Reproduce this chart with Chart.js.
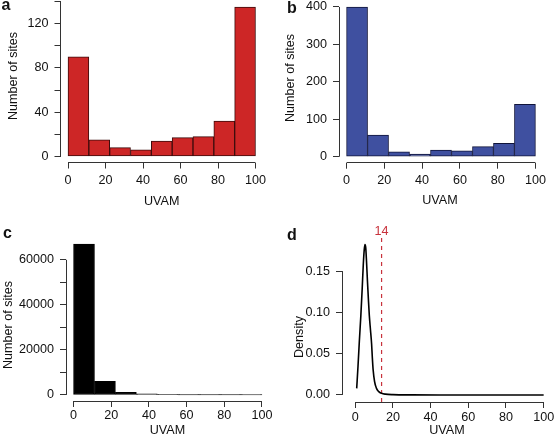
<!DOCTYPE html>
<html>
<head>
<meta charset="utf-8">
<script src="https://cdn.jsdelivr.net/npm/chart.js@4.4.1/dist/chart.umd.min.js"></script>
<style>
  html, body { margin: 0; padding: 0; background: #fff; }
  #wrap { position: relative; width: 554px; height: 445px; overflow: hidden; }
  canvas { position: absolute; }
</style>
</head>
<body>
<div id="wrap">
  <canvas id="chartA" width="277" height="222" style="left:0;top:0"></canvas>
  <canvas id="chartB" width="277" height="222" style="left:277px;top:0"></canvas>
  <canvas id="chartC" width="277" height="223" style="left:0;top:222px"></canvas>
  <canvas id="chartD" width="277" height="223" style="left:277px;top:222px"></canvas>
</div>
<script>
// centres of the nine UVAM bins (0-100, width 100/9)
const binCentres = [5.56, 16.67, 27.78, 38.89, 50, 61.11, 72.22, 83.33, 94.44];

// histogram counts
const countsA = [90, 15, 8, 6, 14, 17, 18, 32, 135];
const countsB = [400, 58, 13, 7, 18, 16, 27, 36, 140];
const countsC = [67000, 6000, 1200, 450, 130, 50, 20, 10, 5];

// density curve of panel d
const densityX = [0.8, 1.5, 2.2, 3.0, 3.7, 4.3, 4.8, 5.2, 5.6, 6.0, 6.5, 7.0, 7.5, 8.1, 8.7, 9.1, 9.5, 10.3, 11.3, 12.5, 14, 16, 20, 30, 50, 75, 100];
const densityY = [0.008, 0.035, 0.065, 0.096, 0.128, 0.158, 0.176, 0.182, 0.178, 0.162, 0.138, 0.116, 0.096, 0.079, 0.062, 0.045, 0.031, 0.016, 0.008, 0.004, 0.002, 0.001, 0.0004, 0.0001, 0, 0, 0];
const cutoff = 14;

// axis ticks and their labels (R drops every other label when crowded)
const xTicks = [0, 20, 40, 60, 80, 100];
const xTickLabels = ['0', '20', '40', '60', '80', '100'];
const yTicksA = [0, 20, 40, 60, 80, 100, 120, 140];
const yTickLabelsA = ['0', '', '40', '', '80', '', '120', ''];
const yTicksB = [0, 100, 200, 300, 400];
const yTickLabelsB = ['0', '100', '200', '300', '400'];
const yTicksC = [0, 10000, 20000, 30000, 40000, 50000, 60000];
const yTickLabelsC = ['0', '', '20000', '', '40000', '', '60000'];
const yTicksD = [0, 0.05, 0.10, 0.15];
const yTickLabelsD = ['0.00', '0.05', '0.10', '0.15'];

const axisColour = '#333';
const font = '"Liberation Sans", Arial, Helvetica, sans-serif';

Chart.defaults.font.family = font;
Chart.defaults.font.size = 12.6;
Chart.defaults.color = '#111';
Chart.defaults.animation = false;
Chart.defaults.plugins.legend.display = false;
Chart.defaults.plugins.tooltip.enabled = false;

function align(v) { return Math.round(v - 0.5) + 0.5; }

// R style: axis line only from first to last tick, plus panel letter and titles
const rStyle = {
    id: 'rStyle',
    afterDraw(chart, args, o) {
        const ctx = chart.ctx, area = chart.chartArea;
        const sx = chart.scales.x, sy = chart.scales.y;
        ctx.save();
        ctx.strokeStyle = axisColour;
        ctx.lineWidth = 1;
        ctx.beginPath();
        const yb = align(area.bottom);
        ctx.moveTo(sx.getPixelForValue(sx.ticks[0].value), yb);
        ctx.lineTo(sx.getPixelForValue(sx.ticks[sx.ticks.length - 1].value), yb);
        const xl = align(area.left);
        ctx.moveTo(xl, sy.getPixelForValue(sy.ticks[0].value));
        ctx.lineTo(xl, sy.getPixelForValue(sy.ticks[sy.ticks.length - 1].value));
        ctx.stroke();

        ctx.fillStyle = '#111';
        ctx.font = 'bold 16px ' + font;
        ctx.textAlign = 'left';
        ctx.textBaseline = 'alphabetic';
        ctx.fillText(o.letter, o.letterPos[0], o.letterPos[1]);

        ctx.font = '12.6px ' + font;
        ctx.textAlign = 'center';
        ctx.textBaseline = 'middle';
        ctx.fillText(o.xTitle, o.xTitlePos[0], o.xTitlePos[1]);
        ctx.translate(o.yTitlePos[0], o.yTitlePos[1]);
        ctx.rotate(-Math.PI / 2);
        ctx.fillText(o.yTitle, 0, 0);
        ctx.restore();

        if (o.cutLabel) {
            ctx.save();
            ctx.font = '12.6px ' + font;
            ctx.fillStyle = '#C8323C';
            ctx.textAlign = 'center';
            ctx.textBaseline = 'middle';
            ctx.fillText(o.cutLabel, sx.getPixelForValue(cutoff), o.cutLabelY);
            ctx.restore();
        }
    }
};

function scaleOpts(min, max, ticks, labels, size, pad, isX) {
    return {
        type: 'linear',
        min: min,
        max: max,
        offset: false,
        grid: { display: true, drawOnChartArea: false, drawTicks: true, tickLength: 6, color: axisColour, lineWidth: 1, offset: false },
        border: { display: false },
        ticks: {
            autoSkip: false, maxRotation: 0, minRotation: 0,
            padding: pad,
            color: '#111',
            callback: (v, i) => labels[i]
        },
        afterBuildTicks: s => { s.ticks = ticks.map(v => ({ value: v })); },
        afterFit: s => {
            if (isX) s.height = size; else s.width = size;
            s.paddingLeft = 0; s.paddingRight = 0; s.paddingTop = 0; s.paddingBottom = 0;
        }
    };
}

function makeHist(id, counts, fill, edge, yTicks, yLabels, g, text) {
    const top = Math.max(...counts);
    new Chart(document.getElementById(id), {
        type: 'bar',
        data: {
            datasets: [{
                data: binCentres.map((x, i) => ({ x: x, y: counts[i] })),
                backgroundColor: fill,
                borderColor: edge,
                borderWidth: 1,
                borderSkipped: false,
                barPercentage: 1,
                categoryPercentage: 1
            }]
        },
        options: {
            responsive: false,
            devicePixelRatio: 1,
            layout: { padding: { left: 0, right: g.padR, top: g.padT, bottom: 0 } },
            scales: {
                x: scaleOpts(-4, 104, xTicks, xTickLabels, g.xH, g.xPad, true),
                y: scaleOpts(-0.04 * top, 1.04 * top, yTicks, yLabels, g.yW, 6, false)
            },
            plugins: { rStyle: text }
        },
        plugins: [rStyle]
    });
}

makeHist('chartA', countsA, '#CD2626', '#3d0c0c', yTicksA, yTickLabelsA,
    { padR: 14, padT: 1, xH: 59.5, yW: 60.5, xPad: 4 },
    { letter: 'a', letterPos: [1.5, 9.5], xTitle: 'UVAM', xTitlePos: [161.7, 201.7], yTitle: 'Number of sites', yTitlePos: [14, 76] });

makeHist('chartB', countsB, '#3F50A0', '#10143a', yTicksB, yTickLabelsB,
    { padR: 11, padT: 1, xH: 59.3, yW: 62, xPad: 4 },
    { letter: 'b', letterPos: [10, 12.7], xTitle: 'UVAM', xTitlePos: [163, 201], yTitle: 'Number of sites', yTitlePos: [14, 78] });

makeHist('chartC', countsC, '#000000', '#000000', yTicksC, yTickLabelsC,
    { padR: 7.5, padT: 16, xH: 44, yW: 66, xPad: 1 },
    { letter: 'c', letterPos: [3, 15.7], xTitle: 'UVAM', xTitlePos: [167.5, 208.5], yTitle: 'Number of sites', yTitlePos: [8.5, 103] });

// panel d: density of UVAM with the cut-off marked
const dMin = -0.0085, dMax = 0.19;
new Chart(document.getElementById('chartD'), {
    type: 'line',
    data: {
        datasets: [{
            data: densityX.map((x, i) => ({ x: x, y: densityY[i] })),
            borderColor: '#000',
            borderWidth: 1.6,
            pointRadius: 0,
            cubicInterpolationMode: 'monotone',
            fill: false
        }, {
            data: [{ x: cutoff, y: dMin }, { x: cutoff, y: dMax }],
            borderColor: '#C8323C',
            borderWidth: 1.2,
            borderDash: [4, 4],
            pointRadius: 0,
            fill: false
        }]
    },
    options: {
        responsive: false,
        devicePixelRatio: 1,
        layout: { padding: { left: 0, right: 2.8, top: 16, bottom: 0 } },
        scales: {
            x: scaleOpts(-7, 104, xTicks, xTickLabels, 43, 1.5, true),
            y: scaleOpts(dMin, dMax, yTicksD, yTickLabelsD, 65, 6, false)
        },
        plugins: {
            rStyle: { letter: 'd', letterPos: [10, 18.3], xTitle: 'UVAM', xTitlePos: [170, 208.5], yTitle: 'Density', yTitlePos: [22.7, 115], cutLabel: String(cutoff), cutLabelY: 10 }
        }
    },
    plugins: [rStyle]
});
</script>
</body>
</html>
